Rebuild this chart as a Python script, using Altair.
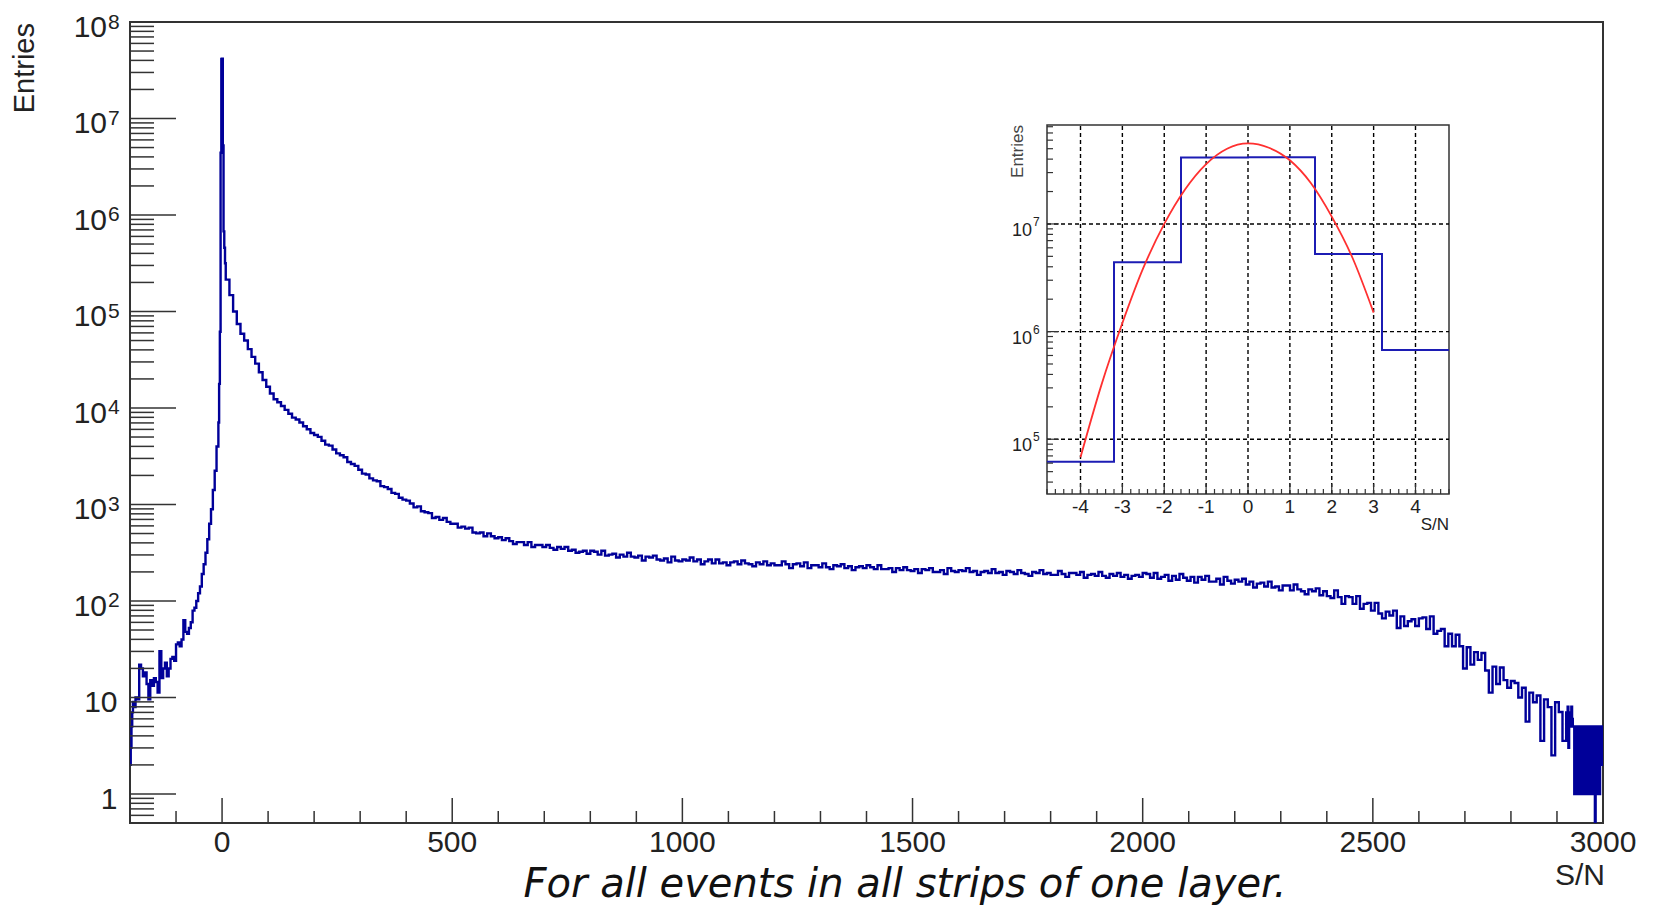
import altair as alt
import pandas as pd

W, H = 1473, 801
FONT = "Liberation Sans"
TXT = "#222222"
AX = "#333333"

# ---------------- main histogram (entries per 1.6-wide S/N bin) ----------------
left_fine_start, left_fine_width = -200.0, 1.6
left_fine_counts = [2, 3, 5, 7, 9]

left_start, left_width = -192.0, 4.0
left_log10 = [0.90, 1.00, 0.98, 1.34, 1.30, 1.22, 1.26, 1.14, 0.98, 1.18,
              1.12, 1.20, 1.16, 1.05, 1.48, 1.20, 1.30, 1.36, 1.22, 1.30,
              1.40, 1.42, 1.38, 1.55, 1.57, 1.53, 1.60, 1.80, 1.68, 1.66,
              1.72, 1.78, 1.90, 1.93, 2.00, 2.08, 2.15, 2.28, 2.38, 2.50,
              2.64, 2.80, 2.95, 3.15, 3.35, 3.60]

core_start, core_width = -8.0, 1.6
core_log10 = [3.85, 4.25, 4.79, 6.645, 7.617, 7.62, 6.72, 5.83, 5.66, 5.50]

right_start, right_width = 8.0, 8.0
right_log10 = [
    5.33, 5.17, 5.00, 4.87, 4.77, 4.70, 4.61, 4.53, 4.46, 4.37, 4.29, 4.22, 4.15, 4.09, 4.06, 4.02, 3.98, 3.94, 3.90, 3.88, 3.85, 3.81, 3.78, 3.74, 3.72,
    3.70, 3.66, 3.62, 3.61, 3.57, 3.53, 3.51, 3.49, 3.44, 3.42, 3.40, 3.36, 3.32, 3.31, 3.27, 3.25, 3.24, 3.19, 3.18, 3.16, 3.12, 3.11, 3.07, 3.05, 3.04,
    3.01, 2.97, 2.98, 2.93, 2.92, 2.91, 2.86, 2.87, 2.84, 2.86, 2.82, 2.80, 2.80, 2.76, 2.77, 2.75, 2.76, 2.71, 2.70, 2.71, 2.67, 2.70, 2.67, 2.65, 2.66,
    2.63, 2.65, 2.62, 2.59, 2.61, 2.61, 2.58, 2.61, 2.56, 2.58, 2.58, 2.56, 2.58, 2.55, 2.53, 2.56, 2.54, 2.56, 2.52, 2.53, 2.50, 2.51, 2.52, 2.49, 2.52,
    2.51, 2.48, 2.52, 2.47, 2.48, 2.49, 2.45, 2.48, 2.46, 2.50, 2.46, 2.45, 2.47, 2.42, 2.46, 2.45, 2.47, 2.43, 2.42, 2.44, 2.40, 2.46, 2.42, 2.41, 2.43,
    2.42, 2.45, 2.41, 2.43, 2.38, 2.41, 2.43, 2.39, 2.43, 2.39, 2.40, 2.37, 2.40, 2.41, 2.38, 2.42, 2.39, 2.38, 2.36, 2.40, 2.38, 2.41, 2.37, 2.39, 2.37,
    2.37, 2.41, 2.38, 2.34, 2.38, 2.39, 2.36, 2.40, 2.34, 2.37, 2.37, 2.35, 2.39, 2.35, 2.33, 2.37, 2.36, 2.38, 2.34, 2.36, 2.32, 2.35, 2.36, 2.34, 2.37,
    2.35, 2.33, 2.37, 2.33, 2.33, 2.34, 2.30, 2.34, 2.32, 2.35, 2.32, 2.31, 2.33, 2.29, 2.33, 2.32, 2.34, 2.30, 2.30, 2.32, 2.28, 2.34, 2.31, 2.30, 2.32,
    2.31, 2.34, 2.30, 2.31, 2.27, 2.30, 2.31, 2.29, 2.33, 2.29, 2.30, 2.27, 2.31, 2.30, 2.28, 2.32, 2.29, 2.28, 2.26, 2.30, 2.29, 2.32, 2.28, 2.29, 2.27,
    2.27, 2.31, 2.28, 2.25, 2.29, 2.29, 2.27, 2.30, 2.24, 2.27, 2.28, 2.26, 2.30, 2.26, 2.24, 2.28, 2.26, 2.29, 2.25, 2.27, 2.23, 2.26, 2.27, 2.25, 2.29,
    2.28, 2.24, 2.29, 2.23, 2.25, 2.27, 2.21, 2.26, 2.22, 2.28, 2.24, 2.21, 2.25, 2.19, 2.25, 2.22, 2.26, 2.20, 2.20, 2.23, 2.17, 2.25, 2.21, 2.18, 2.22,
    2.20, 2.23, 2.17, 2.20, 2.14, 2.18, 2.19, 2.15, 2.20, 2.14, 2.15, 2.11, 2.16, 2.16, 2.11, 2.17, 2.12, 2.10, 2.07, 2.12, 2.10, 2.13, 2.06, 2.10, 2.05,
    2.03, 2.11, 2.04, 1.97, 2.05, 2.04, 1.97, 2.05, 1.92, 1.97, 1.98, 1.90, 1.98, 1.87, 1.82, 1.89, 1.85, 1.90, 1.72, 1.84, 1.74, 1.79, 1.81, 1.74, 1.82,
    1.83, 1.71, 1.84, 1.66, 1.69, 1.71, 1.53, 1.66, 1.53, 1.65, 1.53, 1.30, 1.52, 1.34, 1.47, 1.39, 1.46, 1.28, 1.05, 1.32, 1.14, 1.31, 1.18, 1.10, 1.17,
    1.15, 1.00, 1.10, 0.75, 1.05, 0.95, 1.02, 0.55, 0.98, 0.90, 0.40, 0.95, 0.85, 0.55,
]

tail_start, tail_width = 2920.0, 1.6
tail_counts = [7, 6, 8, 3, 6, 7, 5, 8, 6, 5,
               5, 1, 4, 2, 5, 1, 5, 2, 4, 1,
               5, 3, 5, 1, 4, 2, 5, 1, 5, 2,
               4, 1, 5, 2, 5, 1, 4, 2, 5, 0,
               5, 1, 4, 2, 5, 1, 4, 2, 5, 2]
x_end = 3000.0

# axis scaffolding
x_major = [0, 500, 1000, 1500, 2000, 2500, 3000]
x_minor = [v for v in range(-200, 3000, 100) if v % 500 != 0]
y_major = [1, 10, 100, 1e3, 1e4, 1e5, 1e6, 1e7, 1e8]
y_exp = ["", "", "2", "3", "4", "5", "6", "7", "8"]
y_minor = [m * 10.0 ** k for k in range(-1, 8) for m in range(2, 10) if 0.5 < m * 10.0 ** k < 1e8]

# ---------------- inset ----------------
inset_edges = [-4.8, -3.2, -1.6, 0.0, 1.6, 3.2, 4.8]
inset_log10 = core_log10[2:8]
fit_x = [-4.0, -3.5, -3.0, -2.5, -2.0, -1.5, -1.0, -0.5, 0.0, 0.5, 1.0, 1.5, 2.0, 2.5, 3.0]
fit_y = [6.8e4, 3.2e5, 1.2e6, 3.9e6, 1.0e7, 2.1e7, 3.6e7, 5.0e7, 5.6e7, 5.1e7, 3.9e7, 2.4e7, 1.17e7, 4.8e6, 1.5e6]
ix_major = [-4, -3, -2, -1, 0, 1, 2, 3, 4]
ix_minor = [round(-4.8 + 0.2 * i, 1) for i in range(49) if abs(round(-4.8 + 0.2 * i, 1) - round(-4.8 + 0.2 * i)) > 1e-6]
iy_major = [1e5, 1e6, 1e7]
iy_exp = ["5", "6", "7"]
iy_minor = [m * 10.0 ** k for k in range(4, 8) for m in range(2, 10) if 3.1e4 < m * 10.0 ** k < 8.3e7]
iy_lo, iy_hi = 3.1e4, 8.3e7

# ---------------- build tables ----------------
def seg(start, width, vals):
    return [(start + i * width, v) for i, v in enumerate(vals)]

rows = (seg(left_fine_start, left_fine_width, left_fine_counts)
        + seg(left_start, left_width, [10 ** v for v in left_log10])
        + seg(core_start, core_width, [10 ** v for v in core_log10])
        + seg(right_start, right_width, [10 ** v for v in right_log10])
        + seg(tail_start, tail_width, tail_counts))
rows.append((x_end, rows[-1][1]))
main_df = pd.DataFrame(rows, columns=["sn", "entries"])
main_df["entries"] = main_df["entries"].where(main_df["entries"] > 0, 0.3)

inset_vals = [10 ** v for v in inset_log10]
inset_df = pd.DataFrame({"sn": inset_edges, "entries": inset_vals + [inset_vals[-1]]})
fit_df = pd.DataFrame({"sn": fit_x, "f": fit_y})

mx = alt.Scale(domain=[-200, 3000], nice=False, zero=False)
my = alt.Scale(type="log", domain=[0.5, 1e8], nice=False)
ix = alt.Scale(domain=[-4.8, 4.8], range=[917, 1319], nice=False, zero=False)
iy = alt.Scale(type="log", domain=[iy_lo, iy_hi], range=[472, 103], nice=False)

def X(f, s):
    return alt.X(f, scale=s, axis=None)

def Y(f, s):
    return alt.Y(f, scale=s, axis=None)

# ---- main layers ----
hist = alt.Chart(main_df).mark_line(interpolate="step-after", color="#000099", strokeWidth=2.4, clip=True).encode(
    x=X("sn:Q", mx), y=Y("entries:Q", my))

xt_maj = alt.Chart(pd.DataFrame({"v": x_major})).mark_rule(color=AX, strokeWidth=1.5).encode(
    x=X("v:Q", mx), y=alt.value(H), y2=alt.value(H - 25))
xt_min = alt.Chart(pd.DataFrame({"v": x_minor})).mark_rule(color=AX, strokeWidth=1.5).encode(
    x=X("v:Q", mx), y=alt.value(H), y2=alt.value(H - 12))
yt_maj = alt.Chart(pd.DataFrame({"v": y_major})).mark_rule(color=AX, strokeWidth=1.5).encode(
    y=Y("v:Q", my), x=alt.value(0), x2=alt.value(46))
yt_min = alt.Chart(pd.DataFrame({"v": y_minor})).mark_rule(color=AX, strokeWidth=1.5).encode(
    y=Y("v:Q", my), x=alt.value(0), x2=alt.value(24))

xl = alt.Chart(pd.DataFrame({"v": x_major, "t": [str(v) for v in x_major]})).mark_text(
    font=FONT, fontSize=30, align="center", baseline="alphabetic", color=TXT).encode(
    x=X("v:Q", mx), y=alt.value(H + 29), text="t:N")

hi_df = pd.DataFrame({"v": y_major[2:], "b": ["10"] * 7, "e": y_exp[2:]})
yl_base = alt.Chart(hi_df).mark_text(font=FONT, fontSize=30, align="right", baseline="alphabetic",
                                     dy=15, color=TXT).encode(y=Y("v:Q", my), x=alt.value(-23), text="b:N")
yl_exp = alt.Chart(hi_df).mark_text(font=FONT, fontSize=21, align="left", baseline="alphabetic",
                                    dy=6.5, color=TXT).encode(y=Y("v:Q", my), x=alt.value(-22), text="e:N")
lo_df = pd.DataFrame({"v": y_major[:2], "b": ["1", "10"]})
yl_low = alt.Chart(lo_df).mark_text(font=FONT, fontSize=30, align="right", baseline="alphabetic",
                                    dy=15, color=TXT).encode(y=Y("v:Q", my), x=alt.value(-12.5), text="b:N")

xtitle = alt.Chart(pd.DataFrame({"t": ["S/N"]})).mark_text(
    font=FONT, fontSize=30, align="right", baseline="alphabetic", color=TXT).encode(
    x=alt.value(W + 2), y=alt.value(H + 62), text="t:N")
ytitle = alt.Chart(pd.DataFrame({"t": ["Entries"]})).mark_text(
    font=FONT, fontSize=29, align="right", baseline="alphabetic", angle=270, color=TXT).encode(
    x=alt.value(-96), y=alt.value(1), text="t:N")
caption = alt.Chart(pd.DataFrame({"t": ["For all events in all strips of one layer."]})).mark_text(
    font="DejaVu Sans", fontStyle="italic", fontSize=40, align="center", baseline="alphabetic",
    color="#111111").encode(x=alt.value(775), y=alt.value(875), text="t:N")

main = alt.layer(hist, xt_maj, xt_min, yt_maj, yt_min, xl, yl_base, yl_exp, yl_low, xtitle, ytitle, caption)

# ---- inset layers ----
frame = alt.Chart(pd.DataFrame({"x0": [-4.8], "x1": [4.8], "y0": [iy_lo], "y1": [iy_hi]})).mark_rect(
    fill="white", stroke=AX, strokeWidth=1.5).encode(
    x=X("x0:Q", ix), x2="x1:Q", y=Y("y0:Q", iy), y2="y1:Q")
vgrid = alt.Chart(pd.DataFrame({"g": ix_major, "y0": iy_lo, "y1": iy_hi})).mark_rule(
    color="#000000", strokeWidth=1.4, strokeDash=[4, 3]).encode(
    x=X("g:Q", ix), y=Y("y0:Q", iy), y2="y1:Q")
hgrid = alt.Chart(pd.DataFrame({"g": iy_major, "x0": -4.8, "x1": 4.8})).mark_rule(
    color="#000000", strokeWidth=1.4, strokeDash=[4, 3]).encode(
    y=Y("g:Q", iy), x=X("x0:Q", ix), x2="x1:Q")
ihist = alt.Chart(inset_df).mark_line(interpolate="step-after", color="#1c1cb4", strokeWidth=2).encode(
    x=X("sn:Q", ix), y=Y("entries:Q", iy))
fit = alt.Chart(fit_df).mark_line(interpolate="monotone", color="#ff3030", strokeWidth=1.8).encode(
    x=X("sn:Q", ix), y=Y("f:Q", iy))

itx_maj = alt.Chart(pd.DataFrame({"v": ix_major})).mark_rule(color=AX, strokeWidth=1.2).encode(
    x=X("v:Q", ix), y=alt.value(472), y2=alt.value(462))
itx_min = alt.Chart(pd.DataFrame({"v": ix_minor})).mark_rule(color=AX, strokeWidth=1.2).encode(
    x=X("v:Q", ix), y=alt.value(472), y2=alt.value(467))
ity_maj = alt.Chart(pd.DataFrame({"v": iy_major})).mark_rule(color=AX, strokeWidth=1.2).encode(
    y=Y("v:Q", iy), x=alt.value(917), x2=alt.value(929))
ity_min = alt.Chart(pd.DataFrame({"v": iy_minor})).mark_rule(color=AX, strokeWidth=1.2).encode(
    y=Y("v:Q", iy), x=alt.value(917), x2=alt.value(923))

ixl = alt.Chart(pd.DataFrame({"v": ix_major, "t": [str(v) for v in ix_major]})).mark_text(
    font=FONT, fontSize=19, align="center", baseline="alphabetic", color=TXT).encode(
    x=X("v:Q", ix), y=alt.value(472 + 19), text="t:N")
iyb_df = pd.DataFrame({"v": iy_major, "b": ["10"] * 3, "e": iy_exp})
iyl_b = alt.Chart(iyb_df).mark_text(font=FONT, fontSize=18, align="right", baseline="alphabetic",
                                    dy=12, color=TXT).encode(y=Y("v:Q", iy), x=alt.value(902), text="b:N")
iyl_e = alt.Chart(iyb_df).mark_text(font=FONT, fontSize=12, align="left", baseline="alphabetic",
                                    dy=2, color=TXT).encode(y=Y("v:Q", iy), x=alt.value(903), text="e:N")
ixt = alt.Chart(pd.DataFrame({"t": ["S/N"]})).mark_text(
    font=FONT, fontSize=17, align="right", baseline="alphabetic", color=TXT).encode(
    x=alt.value(1319), y=alt.value(508), text="t:N")
iyt = alt.Chart(pd.DataFrame({"t": ["Entries"]})).mark_text(
    font=FONT, fontSize=17, align="right", baseline="alphabetic", angle=270, color="#444444").encode(
    x=alt.value(893), y=alt.value(103), text="t:N")

inset = alt.layer(frame, vgrid, hgrid, ihist, fit, itx_maj, itx_min, ity_maj, ity_min,
                  ixl, iyl_b, iyl_e, ixt, iyt)

chart = alt.layer(main, inset).resolve_scale(x="independent", y="independent").properties(
    width=W, height=H,
    padding={"left": 122, "top": 14, "right": 40, "bottom": 85},
    autosize=alt.AutoSizeParams(type="none"),
).configure_view(stroke=AX, strokeWidth=2)

chart.save("out.html", embed_options={"renderer": "svg", "actions": False})
